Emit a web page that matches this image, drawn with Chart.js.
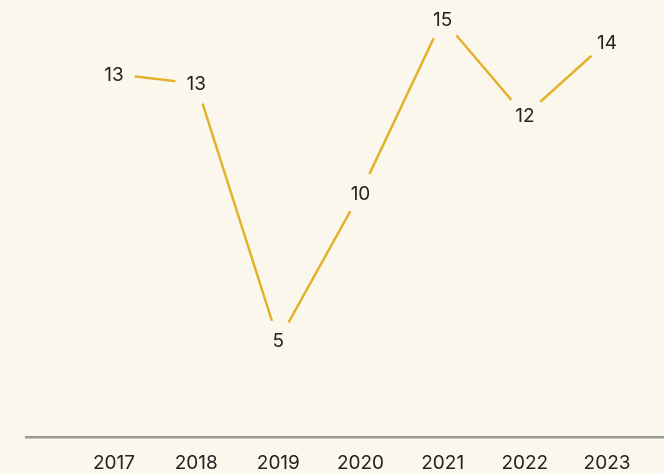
<!DOCTYPE html>
<html>
<head>
<meta charset="utf-8">
<script src="https://cdn.jsdelivr.net/npm/chart.js@4"></script>
<style>
  html, body { margin: 0; padding: 0; background: #fcf7ed; }
  #wrap { width: 664px; height: 474px; position: relative; }
</style>
</head>
<body>
<div id="wrap"><canvas id="chart"></canvas></div>
<script>
const years = ['2017', '2018', '2019', '2020', '2021', '2022', '2023'];
const values = [13.3, 13.0, 5.0, 9.6, 15.0, 12.0, 14.3];

const BG = '#fcf7ed';
const GOLD = '#e3b12c';
const TEXT = '#222222';
const FONT = 'Inter, "Noto Sans", sans-serif';

// paints the cream background
const bgPlugin = {
  id: 'bg',
  beforeDraw(chart) {
    const ctx = chart.ctx;
    ctx.save();
    ctx.fillStyle = BG;
    ctx.fillRect(0, 0, chart.width, chart.height);
    ctx.restore();
  }
};

// value labels sitting on the line with a gap cut around them, plus the long axis rule
const labelPlugin = {
  id: 'labels',
  afterDatasetsDraw(chart) {
    const ctx = chart.ctx;
    const meta = chart.getDatasetMeta(0);
    ctx.save();
    meta.data.forEach((pt, i) => {
      ctx.beginPath();
      ctx.fillStyle = BG;
      ctx.arc(pt.x, pt.y, 21, 0, Math.PI * 2);
      ctx.fill();
      ctx.fillStyle = TEXT;
      ctx.font = '19px ' + FONT;
      ctx.textAlign = 'center';
      ctx.textBaseline = 'middle';
      ctx.fillText(String(Math.round(values[i])), pt.x, pt.y + 1);
    });
    const y = chart.chartArea.bottom;
    ctx.strokeStyle = '#999999';
    ctx.lineWidth = 2.5;
    ctx.beginPath();
    ctx.moveTo(25, y);
    ctx.lineTo(chart.width, y);
    ctx.stroke();
    ctx.restore();
  }
};

new Chart(document.getElementById('chart'), {
  type: 'line',
  data: {
    labels: years,
    datasets: [{
      data: values,
      borderColor: GOLD,
      borderWidth: 2.5,
      pointRadius: 0,
      fill: false,
      tension: 0
    }]
  },
  options: {
    responsive: true,
    maintainAspectRatio: false,
    animation: false,
    layout: { padding: { left: 114, right: 57, top: 0, bottom: -16 } },
    plugins: { legend: { display: false }, tooltip: { enabled: false } },
    scales: {
      x: {
        offset: false,
        grid: { display: false, drawTicks: false },
        border: { display: false },
        ticks: { color: TEXT, font: { family: FONT, size: 19 }, padding: 15, maxRotation: 0 }
      },
      y: {
        display: false,
        min: 2,
        max: 15.6
      }
    }
  },
  plugins: [bgPlugin, labelPlugin]
});
</script>
</body>
</html>
